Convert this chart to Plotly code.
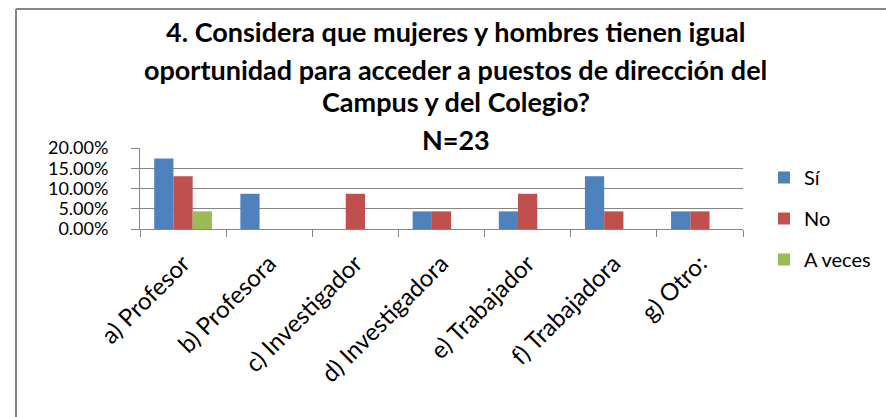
import plotly.graph_objects as go

categories = ["a) Profesor", "b) Profesora", "c) Investigador", "d) Investigadora",
              "e) Trabajador", "f) Trabajadora", "g) Otro:"]
si = [0.1739, 0.0870, 0.0, 0.0435, 0.0435, 0.1304, 0.0435]
no = [0.1304, 0.0, 0.0870, 0.0435, 0.0870, 0.0435, 0.0435]
a_veces = [0.0435, 0.0, 0.0, 0.0, 0.0, 0.0, 0.0]
series_names = ["Sí", "No", "A veces"]
colors = ["#4F81BD", "#C0504D", "#9BBB59"]
title_lines = ["4. Considera que mujeres y hombres tienen igual",
               "oportunidad para acceder a puestos de dirección del",
               "Campus y del Colegio?",
               "N=23"]
yticks = [0, 0.05, 0.10, 0.15, 0.20]

W, H = 886, 417
L, R, T, B = 140, 743, 148, 229
font = "Lato, Open Sans, sans-serif"

fig = go.Figure()
for name, vals, c in zip(series_names, [si, no, a_veces], colors):
    fig.add_trace(go.Bar(x=categories, y=vals, name=name, legendgroup=name,
                         marker=dict(color=c, line=dict(width=0))))

def py(p):
    return (B - p) / (B - T)
def px(p):
    return (p - L) / (R - L)

title_y = [32, 69, 101, 139]
for txt, yy in zip(title_lines, title_y):
    fig.add_annotation(text="<b>" + txt + "</b>", xref="paper", yref="paper",
                       x=px(456), y=py(yy), xanchor="center", yanchor="middle",
                       showarrow=False, font=dict(family=font, size=27, color="#000000"))

# frame
fig.add_shape(type="line", xref="paper", yref="paper", x0=px(16), x1=px(900), y0=py(9), y1=py(9),
              line=dict(color="#868686", width=2))
fig.add_shape(type="line", xref="paper", yref="paper", x0=px(16), x1=px(16), y0=py(9), y1=py(430),
              line=dict(color="#868686", width=2))

fig.update_layout(
    width=W, height=H,
    margin=dict(l=L, r=W - R, t=T, b=H - B, autoexpand=False),
    paper_bgcolor="white", plot_bgcolor="white",
    barmode="group", bargap=0.33, bargroupgap=0,
    showlegend=True,
    legend=dict(x=px(764), y=py(158), xanchor="left", yanchor="top",
                font=dict(family=font, size=20, color="#000000"),
                tracegroupgap=12, itemsizing="constant", bgcolor="rgba(0,0,0,0)",
                maxheight=300),
    font=dict(family=font, color="#000000"),
)
fig.update_yaxes(range=[0, 0.20], tickvals=yticks, tickformat=".2%",
                 showgrid=True, gridcolor="#868686", gridwidth=1,
                 showline=True, linecolor="#868686", linewidth=1,
                 ticks="outside", ticklen=8, tickcolor="#868686", ticklabelstandoff=19,
                 tickfont=dict(family=font, size=18, color="#000000"), zeroline=False)
fig.update_xaxes(showline=True, linecolor="#868686", linewidth=1,
                 ticks="outside", ticklen=7, tickcolor="#868686", tickson="boundaries",
                 ticklabelstandoff=10,
                 tickangle=-45, tickfont=dict(family=font, size=24, color="#000000"))

fig.write_html("out.html", config={"displayModeBar": False},
               post_script="document.body.style.margin='0';document.body.style.padding='0';")
